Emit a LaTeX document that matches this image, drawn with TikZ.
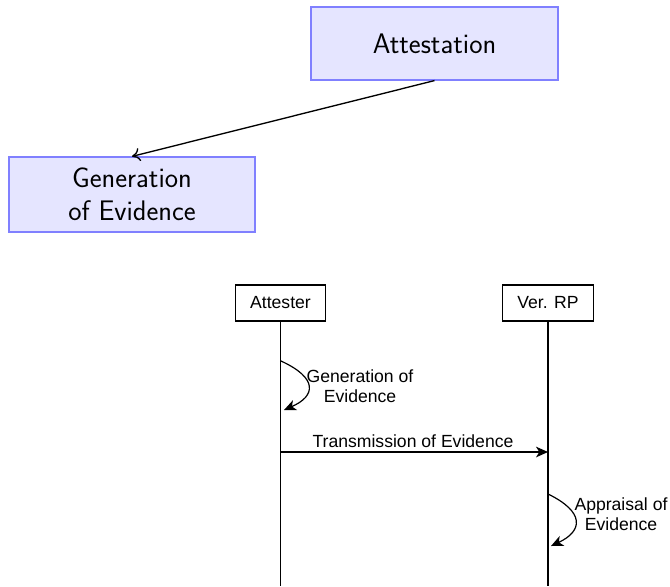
\documentclass[tikz,border=0pt]{standalone}
\usepackage{fontspec}
\newfontfamily\arialfont{Liberation Sans}
\usetikzlibrary{arrows.meta}
\begin{document}
\begin{tikzpicture}[x=0.75pt,y=-0.75pt,
  concept/.style={draw=blue!50,fill=blue!10,line width=0.9pt,align=center,
    inner sep=0pt,font=\sffamily\fontsize{21.2}{24.8}\selectfont},
  actor/.style={draw=black,line width=0.8pt,inner sep=0pt,
    minimum width=68pt,minimum height=27pt,font=\arialfont\fontsize{13.2}{15}\selectfont},
  lifeline/.style={line width=0.9pt},
  msg/.style={line width=0.9pt,-{Stealth[length=9pt,width=8pt,inset=2.5pt]}},
  msglabel/.style={align=center,inner sep=0pt,font=\arialfont\fontsize{13.2}{15}\selectfont},
  link/.style={line width=1pt,-{Computer Modern Rightarrow[length=6pt,width=10pt]}}]
\useasboundingbox (0,0) rectangle (670,586);

% concept boxes
\node[concept,minimum width=185.25pt,minimum height=54.75pt] (att) at (434.5,43.5) {Attestation};
\node[concept,minimum width=184.5pt,minimum height=56.25pt] (gen) at (132,194.5) {Generation\\of Evidence};
\draw[link] (att.south) -- (gen.north);

% sequence actors
\node[actor] (attester) at (280.5,303) {Attester};
\node[actor] (verrp) at (548,303) {Ver. RP};

\coordinate (attEnd) at (280.5,586);
\coordinate (rpEnd) at (548,586);
\draw[lifeline] (attester.south) -- (attEnd);
\draw[lifeline] (verrp.south) -- (rpEnd);

% generation of evidence (self message)
\coordinate (g1) at (281,361);
\coordinate (g2) at (284,410);
\draw[msg] (g1) .. controls (318,378) and (316,396) .. (g2);
\node[msglabel] (glab) at (360,386) {Generation of\\Evidence};

% transmission of evidence
\coordinate (t1) at (281,452);
\coordinate (t2) at (548,452);
\draw[msg] (t1) -- (t2);
\node[msglabel] (tlab) at (413,441) {Transmission of Evidence};

% appraisal of evidence (self message)
\coordinate (a1) at (548,494);
\coordinate (a2) at (551,546);
\draw[msg] (a1) .. controls (585,512) and (583,531) .. (a2);
\node[msglabel] (alab) at (621,514) {Appraisal of\\Evidence};
\end{tikzpicture}
\end{document}
